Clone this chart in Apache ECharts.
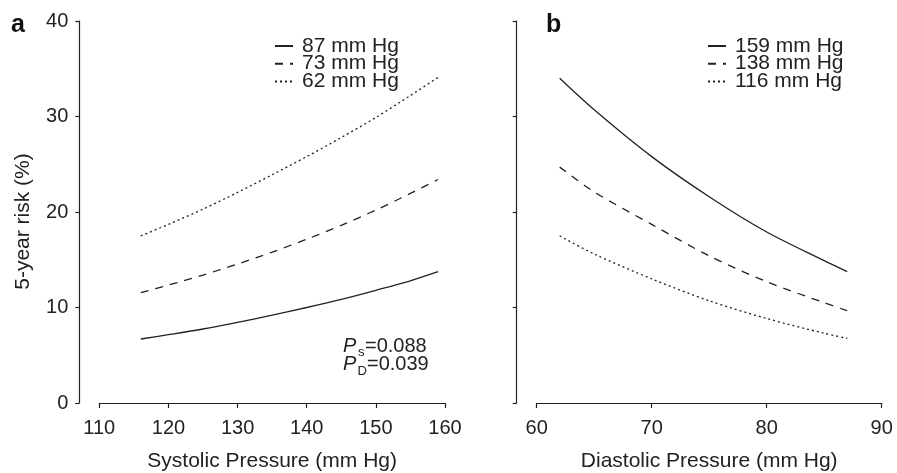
<!DOCTYPE html>
<html>
<head>
<meta charset="utf-8">
<script src="https://cdn.jsdelivr.net/npm/echarts@6/dist/echarts.min.js"></script>
<style>
html,body{margin:0;padding:0;background:#fff;}
#chart{width:897px;height:473px;}
</style>
</head>
<body>
<div id="chart"></div>
<script>
// ---- data ----
const sysX = [116, 120, 125, 130, 135, 140, 145, 150, 155, 159];
const risk87 = [6.7, 7.15, 7.75, 8.45, 9.2, 10.0, 10.85, 11.8, 12.8, 13.75];
const risk73 = [11.55, 12.35, 13.4, 14.55, 15.8, 17.15, 18.6, 20.2, 21.95, 23.4];
const risk62 = [17.5, 18.7, 20.3, 22.05, 23.9, 25.8, 27.8, 29.9, 32.2, 34.1];

const diaX = [62, 65, 70, 75, 80, 85, 87];
const risk159 = [34.0, 30.7, 25.8, 21.6, 17.9, 14.9, 13.75];
const risk138 = [24.7, 22.1, 18.7, 15.4, 12.7, 10.5, 9.67];
const risk116 = [17.5, 15.6, 13.0, 10.7, 8.85, 7.3, 6.77];

const namesA = ['87 mm Hg', '73 mm Hg', '62 mm Hg'];
const namesB = ['159 mm Hg', '138 mm Hg', '116 mm Hg'];
const sysTicks = [110, 120, 130, 140, 150, 160];
const diaTicks = [60, 70, 80, 90];
const riskTicks = [0, 10, 20, 30, 40];

// ---- styling ----
const FONT = '"Liberation Sans", Arial, Helvetica, sans-serif';
const INK = '#222';
const dashStyles = ['solid', [8, 7], [2, 3]];

const pairs = (xs, ys) => xs.map((x, i) => [x, ys[i]]);

function mkSeries(name, xs, ys, idx, k) {
  return {
    type: 'line', name: name, xAxisIndex: idx, yAxisIndex: idx,
    data: pairs(xs, ys), symbol: 'none', smooth: 0.3,
    lineStyle: { color: INK, width: 1.3, type: dashStyles[k] },
    itemStyle: { color: INK },
    emphasis: { disabled: true }
  };
}

function xAx(idx, min, max, nm) {
  return {
    type: 'value', gridIndex: idx, min: min, max: max, interval: 10,
    offset: 1.5, name: nm, nameLocation: 'middle', nameGap: 46,
    nameTextStyle: { fontFamily: FONT, fontSize: 21, color: INK },
    axisLine: { show: true, lineStyle: { color: INK, width: 1.2 } },
    axisTick: { show: true, length: 5, lineStyle: { color: INK, width: 1.2 } },
    axisLabel: { fontFamily: FONT, fontSize: 20, color: INK, margin: 14 },
    splitLine: { show: false }
  };
}
function yAx(idx, showLabel) {
  return {
    type: 'value', gridIndex: idx, min: riskTicks[0], max: riskTicks[riskTicks.length - 1], interval: 10,
    offset: 20,
    name: showLabel ? '5-year risk (%)' : '', nameLocation: 'middle', nameGap: 46,
    nameTextStyle: { fontFamily: FONT, fontSize: 21, color: INK, padding: [0, 19, 0, 0] },
    axisLine: { show: true, lineStyle: { color: INK, width: 1.2 } },
    axisTick: { show: true, length: 4, lineStyle: { color: INK, width: 1.2 } },
    axisLabel: { show: showLabel, fontFamily: FONT, fontSize: 20, color: INK, margin: 11 },
    splitLine: { show: false }
  };
}
function legend(names, left) {
  return {
    data: names, orient: 'vertical', left: left, top: 35.5, padding: 0,
    itemWidth: 18, itemHeight: 10, itemGap: -3.3,
    selectedMode: false,
    itemStyle: { color: 'transparent', borderColor: 'transparent', borderWidth: 0 },
    textStyle: { fontFamily: FONT, fontSize: 21, color: INK, padding: [0, 0, 0, 4] }
  };
}

const chart = echarts.init(document.getElementById('chart'), null, { renderer: 'canvas' });
chart.setOption({
  animation: false,
  backgroundColor: '#fff',
  grid: [
    { left: 99.3, top: 21, width: 345.7, height: 382, outerBoundsMode: 'none', containLabel: false },
    { left: 536.7, top: 21, width: 345, height: 382, outerBoundsMode: 'none', containLabel: false }
  ],
  xAxis: [xAx(0, sysTicks[0], sysTicks[sysTicks.length - 1], 'Systolic Pressure (mm Hg)'),
          xAx(1, diaTicks[0], diaTicks[diaTicks.length - 1], 'Diastolic Pressure (mm Hg)')],
  yAxis: [yAx(0, true), yAx(1, false)],
  legend: [legend(namesA, 274), legend(namesB, 707)],
  series: [
    mkSeries(namesA[0], sysX, risk87, 0, 0),
    mkSeries(namesA[1], sysX, risk73, 0, 1),
    mkSeries(namesA[2], sysX, risk62, 0, 2),
    mkSeries(namesB[0], diaX, risk159, 1, 0),
    mkSeries(namesB[1], diaX, risk138, 1, 1),
    mkSeries(namesB[2], diaX, risk116, 1, 2)
  ],
  graphic: [
    { type: 'text', x: 11, y: 25, style: { text: 'a', font: 'bold 25px ' + FONT, fill: '#111', verticalAlign: 'middle' } },
    { type: 'text', x: 546, y: 25.6, style: { text: 'b', font: 'bold 25px ' + FONT, fill: '#111', verticalAlign: 'middle' } },
    { type: 'text', x: 343, y: 346.5, style: { text: 'P', font: 'italic 20px ' + FONT, fill: INK, verticalAlign: 'middle' } },
    { type: 'text', x: 358, y: 352, style: { text: 's', font: '13px ' + FONT, fill: INK, verticalAlign: 'middle' } },
    { type: 'text', x: 365, y: 346.5, style: { text: '=0.088', font: '20px ' + FONT, fill: INK, verticalAlign: 'middle' } },
    { type: 'text', x: 343, y: 364.5, style: { text: 'P', font: 'italic 20px ' + FONT, fill: INK, verticalAlign: 'middle' } },
    { type: 'text', x: 357.5, y: 371, style: { text: 'D', font: '13px ' + FONT, fill: INK, verticalAlign: 'middle' } },
    { type: 'text', x: 367, y: 364.5, style: { text: '=0.039', font: '20px ' + FONT, fill: INK, verticalAlign: 'middle' } }
  ]
});
</script>
</body>
</html>
